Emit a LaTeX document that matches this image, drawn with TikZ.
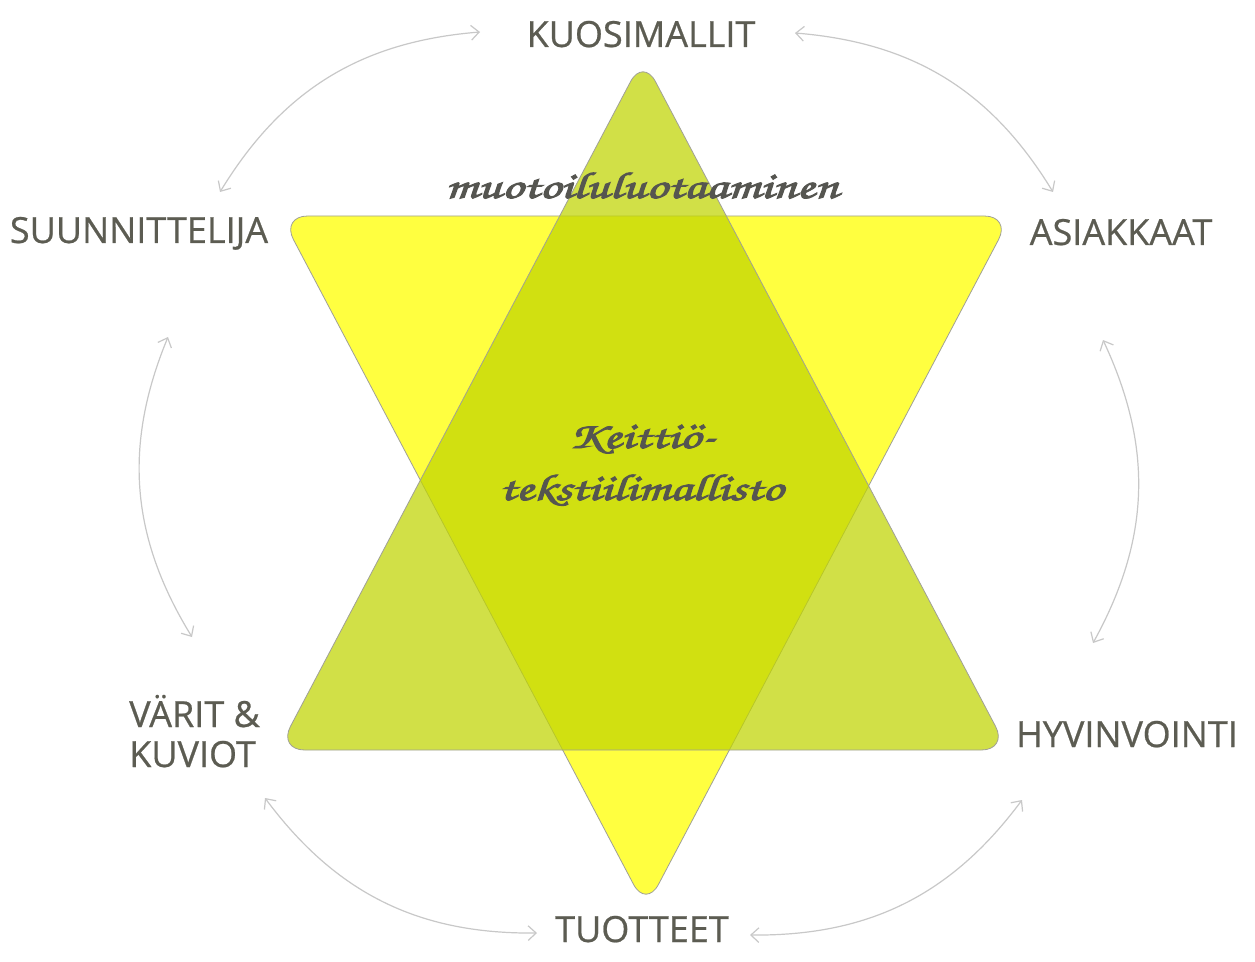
\documentclass[tikz,border=0pt]{standalone}
\usepackage{fontspec}
\setmainfont{Open Sans}[FakeBold=0.6]
\newfontfamily\scriptf{texgyrechorus-mediumitalic.otf}[FakeBold=2.5]
\usetikzlibrary{arrows.meta}
\definecolor{labeltext}{RGB}{92,92,82}
\definecolor{scripttext}{RGB}{85,85,80}
\definecolor{staryellow}{RGB}{255,255,64}
\definecolor{stargreen}{RGB}{192,213,0}
\definecolor{arcgray}{RGB}{200,200,200}
\definecolor{edgegray}{RGB}{160,160,150}
\begin{document}
\begin{tikzpicture}[x=0.75pt,y=-0.75pt,
  lbl/.style={font=\fontsize{27}{30}\selectfont, text=labeltext, inner sep=0pt, anchor=base},
  scr/.style={font=\scriptf\fontsize{28}{39}\selectfont, text=scripttext, inner sep=0pt, anchor=base},
  arc/.style={draw=arcgray, line width=0.9pt,
    arrows={Straight Barb[length=6pt,width=11pt]-Straight Barb[length=6pt,width=11pt]}},
  tri/.style={draw=edgegray, line width=0.6pt, rounded corners=20pt}]
\useasboundingbox (0,0) rectangle (1255,962);
\fill[white] (0,0) rectangle (1255,962);
% star
\path[tri, fill=staryellow] (281,216) -- (1011,216) -- (646,908) -- cycle;
\path[tri, fill=stargreen, fill opacity=0.72] (643,58) -- (1008,750) -- (278,750) -- cycle;
% labels
\node[lbl] (kuosi) at (641,47) {KUOSIMALLIT};
\node[lbl] (suun) at (139,243) {SUUNNITTELIJA};
\node[lbl] (asiak) at (1121,245) {ASIAKKAAT};
\node[lbl] (hyvin) at (1127,747) {HYVINVOINTI};
\node[lbl] (tuot) at (642,942) {TUOTTEET};
\node[lbl, anchor=base west, align=left] (varit) at (129,767) {VÄRIT \&\\KUVIOT};
% script texts
\node[scr] (muot) at (642,198) {\scalebox{1.4}[1]{muotoiluluotaaminen}};
\node[scr] (keit) at (642,448) {\scalebox{1.4}[1]{Keittiö-}};
\node[scr] (teks) at (641,500) {\scalebox{1.4}[1]{tekstiilimallisto}};
% arc end points
\coordinate (a1s) at (220,192); \coordinate (a1e) at (480,32);
\coordinate (a2s) at (795,33);  \coordinate (a2e) at (1053,192);
\coordinate (a3s) at (1103,340); \coordinate (a3e) at (1093,643);
\coordinate (a4s) at (1022,800); \coordinate (a4e) at (750,935);
\coordinate (a5s) at (265,798); \coordinate (a5e) at (537,933);
\coordinate (a6s) at (168,337); \coordinate (a6e) at (192,637);
\draw[arc] (a1s) to[bend left=27] (a1e);
\draw[arc] (a2s) to[bend left=27] (a2e);
\draw[arc] (a3s) to[bend left=27] (a3e);
\draw[arc] (a4s) to[bend left=27] (a4e);
\draw[arc] (a5s) to[bend right=27] (a5e);
\draw[arc] (a6s) to[bend right=27] (a6e);
\end{tikzpicture}
\end{document}
